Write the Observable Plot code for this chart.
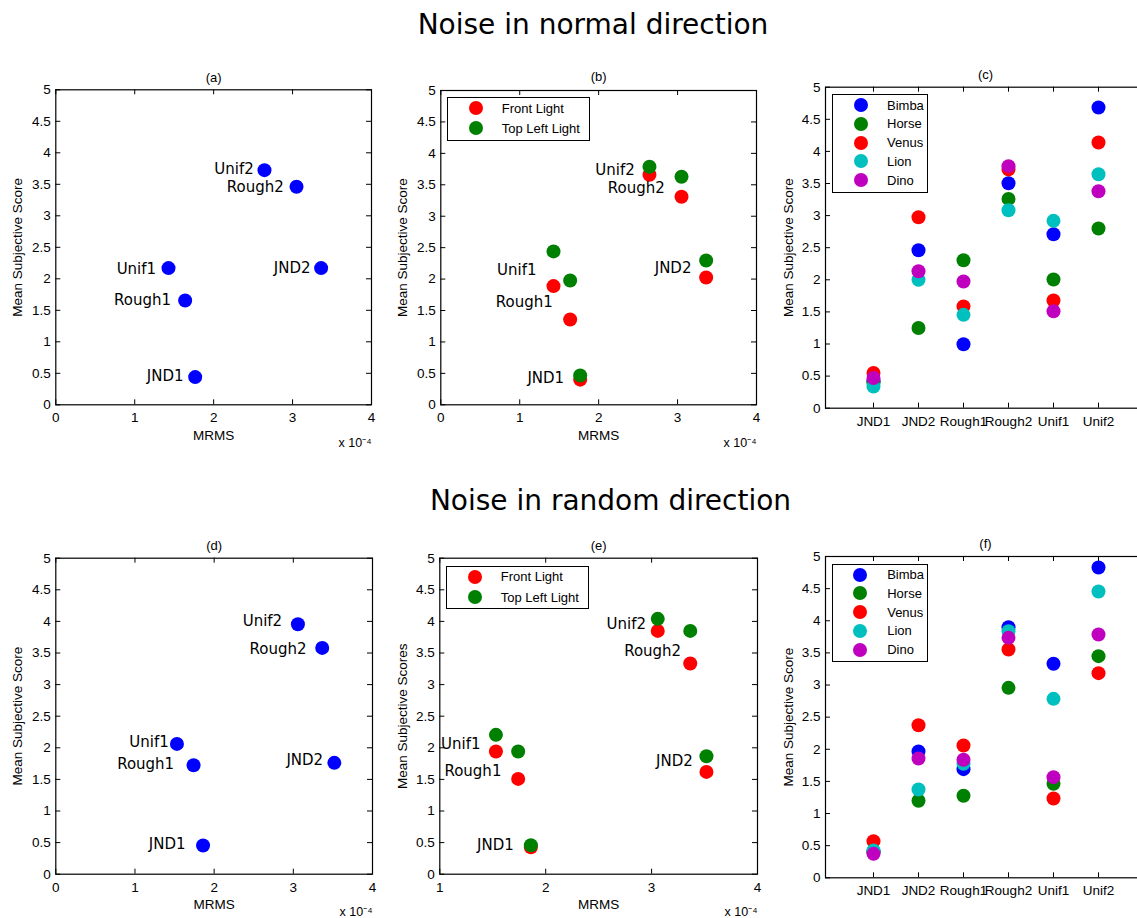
<!DOCTYPE html>
<html><head><meta charset="utf-8">
<script src="https://cdn.jsdelivr.net/npm/d3@7"></script>
<script src="https://cdn.jsdelivr.net/npm/@observablehq/plot@0.6"></script>
<style>
body{margin:0;background:#fff;overflow:hidden}
#fig{position:relative;width:1137px;height:918px;overflow:hidden;background:#fff;font-family:"Liberation Sans",Arial,sans-serif;color:#000}
.bigtitle{position:absolute;font-family:"DejaVu Sans";font-size:28px;line-height:28px;white-space:nowrap;transform:translateX(-50%);color:#000}
.legend{position:absolute;border:1.5px solid #000;background:#fff;box-sizing:border-box}
.legend .dot{position:absolute;width:14px;height:14px;border-radius:50%}
.legend .lab{position:absolute;font-size:13px;line-height:13px;white-space:nowrap;font-family:"Liberation Sans",Arial,sans-serif}
</style></head>
<body><div id="fig"></div>
<script>
// ---------------- data ----------------
const noiseTypes = ["JND1", "JND2", "Rough1", "Rough2", "Unif1", "Unif2"];
const models = ["Bimba", "Horse", "Venus", "Lion", "Dino"];
const lights = ["Front Light", "Top Left Light"];
const yTicks = [0, 0.5, 1, 1.5, 2, 2.5, 3, 3.5, 4, 4.5, 5];
const xTicksNormal = [0, 1, 2, 3, 4];
const xTicksRandom = [1, 2, 3, 4];

// Noise in normal direction (MRMS in units of 1e-4)
const mrmsNormal = [1.766, 3.362, 1.639, 3.05, 1.428, 2.644];
const scoreNormal = [0.44, 2.17, 1.656, 3.46, 2.17, 3.725];
const scoreNormalFront = [0.40, 2.025, 1.357, 3.31, 1.888, 3.66];
const scoreNormalTopLeft = [0.467, 2.296, 1.978, 3.627, 2.44, 3.786];
const scoreNormalBimba = [0.42, 2.46, 0.997, 3.505, 2.71, 4.683];
const scoreNormalHorse = [0.40, 1.25, 2.305, 3.26, 2.004, 2.799];
const scoreNormalVenus = [0.55, 2.975, 1.584, 3.72, 1.677, 4.138];
const scoreNormalLion = [0.337, 2.0, 1.454, 3.084, 2.918, 3.645];
const scoreNormalDino = [0.47, 2.134, 1.973, 3.77, 1.511, 3.38];

// Noise in random direction
const mrmsRandom = [1.86, 3.518, 1.74, 3.365, 1.53, 3.058];
const scoreRandom = [0.454, 1.762, 1.725, 3.581, 2.062, 3.956];
const scoreRandomFront = [0.427, 1.619, 1.508, 3.333, 1.941, 3.85];
const scoreRandomTopLeft = [0.459, 1.867, 1.941, 3.85, 2.205, 4.04];
const scoreRandomBimba = [0.40, 1.966, 1.691, 3.90, 3.33, 4.829];
const scoreRandomHorse = [0.40, 1.198, 1.276, 2.956, 1.463, 3.449];
const scoreRandomVenus = [0.57, 2.375, 2.059, 3.553, 1.234, 3.185];
const scoreRandomLion = [0.425, 1.374, 1.774, 3.838, 2.785, 4.455];
const scoreRandomDino = [0.373, 1.857, 1.836, 3.734, 1.566, 3.786];

// annotation anchors (data units: right end of each name label)
const labelXa = [1.618, 3.227, 1.461, 2.889, 1.271, 2.509];
const labelYa = [0.455, 2.175, 1.656, 3.455, 2.159, 3.735];
const labelXb = [1.563, 3.176, 1.419, 2.838, 1.212, 2.458];
const labelYb = [0.424, 2.179, 1.638, 3.451, 2.136, 3.727];
const labelXd = [1.638, 3.377, 1.495, 3.166, 1.427, 2.859];
const labelYd = [0.469, 1.798, 1.735, 3.555, 2.089, 3.998];
const labelXe = [1.699, 3.389, 1.582, 3.279, 1.384, 2.948];
const labelYe = [0.454, 1.783, 1.63, 3.528, 2.062, 3.961];

// ---------------- styles ----------------
const modelColors = ["#0000ff", "#008000", "#ff0000", "#00bfbf", "#bf00bf"];
const lightColors = ["#ff0000", "#008000"];
const DOT_R = 7;
const TICK = 5;

const fig = document.getElementById("fig");
function place(el, left, top) {
  el.style.position = "absolute";
  el.style.left = left + "px";
  el.style.top = top + "px";
  fig.appendChild(el);
}

function axesMarks(geom, {xTickValues, xFormat, title, titleDy, ylabel, ylabelDx, xlabel, xlabelDy, expDy}) {
  const [w, h, ml, mr, mt, mb] = geom;
  const fw = w - ml - mr, fh = h - mt - mb;
  const m = [
    // inward ticks on all four sides (MATLAB box style)
    Plot.ruleY(yTicks, {insetRight: fw - TICK, stroke: "#000", strokeWidth: 1}),
    Plot.ruleY(yTicks, {insetLeft: fw - TICK, stroke: "#000", strokeWidth: 1}),
    Plot.ruleX(xTickValues, {insetTop: fh - TICK, stroke: "#000", strokeWidth: 1}),
    Plot.ruleX(xTickValues, {insetBottom: fh - TICK, stroke: "#000", strokeWidth: 1}),
    Plot.frame({stroke: "#000", strokeWidth: 1.2}),
    Plot.axisY({anchor: "left", ticks: yTicks, tickFormat: d => String(d), tickSize: 0, tickPadding: 5, label: null, fontSize: 13.5}),
    Plot.axisX({anchor: "bottom", ticks: xTickValues, tickFormat: xFormat, tickSize: 0, tickPadding: 8, label: null, fontSize: 13.5}),
    Plot.text([title], {frameAnchor: "top", dy: titleDy, lineAnchor: "middle", fontSize: 13}),
    Plot.text([ylabel], {frameAnchor: "left", dx: ylabelDx, rotate: -90, textAnchor: "middle", lineAnchor: "middle", fontSize: 13.5})
  ];
  if (xlabel) m.push(Plot.text([xlabel], {frameAnchor: "bottom", dy: xlabelDy, lineAnchor: "middle", fontSize: 13.5}));
  if (expDy) m.push(Plot.text(["x 10\u207B\u2074"], {frameAnchor: "bottom-right", textAnchor: "end", dy: expDy, lineAnchor: "middle", fontSize: 12.5}));
  return m;
}

function baseOptions(width, height, ml, mr, mt, mb) {
  return {
    width, height, marginLeft: ml, marginRight: mr, marginTop: mt, marginBottom: mb,
    style: {fontFamily: "Liberation Sans, Arial, sans-serif", fontSize: "13px", color: "#000", background: "transparent", overflow: "visible"}
  };
}

function nameLabels(rows) {
  return Plot.text(rows, {x: "lx", y: "ly", text: "name", textAnchor: "end", lineAnchor: "middle", fontFamily: "DejaVu Sans", fontSize: 15, fill: "#000"});
}

// single-colour scatter (a, d)
function scatterSingle({mrms, score, lx, ly, xDomain, xTickValues, geom, text}) {
  const rows = noiseTypes.map((name, i) => ({name, mrms: mrms[i], score: score[i], lx: lx[i], ly: ly[i]}));
  return Plot.plot({
    ...baseOptions(...geom),
    x: {domain: xDomain, label: null},
    y: {domain: [0, 5], label: null},
    marks: [
      ...axesMarks(geom, {xTickValues, xFormat: d => String(d), ...text}),
      Plot.dot(rows, {x: "mrms", y: "score", r: DOT_R, fill: modelColors[0], stroke: "none"}),
      nameLabels(rows)
    ]
  });
}

// two-light scatter (b, e)
function scatterLights({mrms, front, topLeft, lx, ly, xDomain, xTickValues, geom, text}) {
  const series = [front, topLeft];
  const rows = [];
  series.forEach((s, k) => noiseTypes.forEach((name, i) => rows.push({name, light: lights[k], mrms: mrms[i], score: s[i]})));
  const labelRows = noiseTypes.map((name, i) => ({name, lx: lx[i], ly: ly[i]}));
  return Plot.plot({
    ...baseOptions(...geom),
    x: {domain: xDomain, label: null},
    y: {domain: [0, 5], label: null},
    color: {domain: lights, range: lightColors},
    marks: [
      ...axesMarks(geom, {xTickValues, xFormat: d => String(d), ...text}),
      Plot.dot(rows, {x: "mrms", y: "score", r: DOT_R, fill: "light", stroke: "none"}),
      nameLabels(labelRows)
    ]
  });
}

// per-model categorical (c, f)
function modelPlot({series, geom, text}) {
  const rows = [];
  series.forEach((s, k) => noiseTypes.forEach((name, i) => rows.push({noise: name, model: models[k], score: s[i]})));
  return Plot.plot({
    ...baseOptions(...geom),
    x: {type: "point", domain: noiseTypes, padding: 1, label: null},
    y: {domain: [0, 5], label: null},
    color: {domain: models, range: modelColors},
    marks: [
      ...axesMarks(geom, {xTickValues: noiseTypes, xFormat: d => d, ...text}),
      Plot.dot(rows, {x: "noise", y: "score", r: DOT_R, fill: "model", stroke: "none"})
    ]
  });
}

function legend(left, top, width, height, labels, colors, firstY, stepY, dotX, textX) {
  const box = document.createElement("div");
  box.className = "legend";
  box.style.width = width + "px";
  box.style.height = height + "px";
  labels.forEach((lab, i) => {
    const cy = firstY + i * stepY - 1.5;
    const d = document.createElement("span");
    d.className = "dot";
    d.style.background = colors[i];
    d.style.left = (dotX - 1.5 - 7) + "px";
    d.style.top = (cy - 7) + "px";
    box.appendChild(d);
    const t = document.createElement("span");
    t.className = "lab";
    t.textContent = lab;
    t.style.left = (textX - 1.5) + "px";
    t.style.top = (cy - 6.5) + "px";
    box.appendChild(t);
  });
  place(box, left, top);
}

function bigTitle(text, cx, top) {
  const d = document.createElement("div");
  d.className = "bigtitle";
  d.textContent = text;
  d.style.left = cx + "px";
  d.style.top = top + "px";
  fig.appendChild(d);
}

// ---------------- titles ----------------
bigTitle("Noise in normal direction", 593, 11);
bigTitle("Noise in random direction", 610.5, 487);

// ---------------- row 1 ----------------
place(scatterSingle({
  mrms: mrmsNormal, score: scoreNormal, lx: labelXa, ly: labelYa,
  xDomain: [0, 4], xTickValues: xTicksNormal,
  geom: [385, 395, 55.3, 14, 29.3, 50.7],
  text: {title: "(a)", titleDy: -12.3, ylabel: "Mean Subjective Score", ylabelDx: -38, xlabel: "MRMS", xlabelDy: 30.7, expDy: 38.4}
}), 0, 60);

place(scatterLights({
  mrms: mrmsNormal, front: scoreNormalFront, topLeft: scoreNormalTopLeft, lx: labelXb, ly: labelYb,
  xDomain: [0, 4], xTickValues: xTicksNormal,
  geom: [385, 395, 60.3, 9, 30, 50.7],
  text: {title: "(b)", titleDy: -13.3, ylabel: "Mean Subjective Score", ylabelDx: -38, xlabel: "MRMS", xlabelDy: 30.7, expDy: 38.4}
}), 380, 60);

place(modelPlot({
  series: [scoreNormalBimba, scoreNormalHorse, scoreNormalVenus, scoreNormalLion, scoreNormalDino],
  geom: [375, 395, 55, 0, 26.7, 47.3],
  text: {title: "(c)", titleDy: -12.7, ylabel: "Mean Subjective Score", ylabelDx: -36.7}
}), 770, 60);

// ---------------- row 2 ----------------
place(scatterSingle({
  mrms: mrmsRandom, score: scoreRandom, lx: labelXd, ly: labelYd,
  xDomain: [0, 4], xTickValues: xTicksNormal,
  geom: [385, 388, 55.3, 13, 27.7, 44.3],
  text: {title: "(d)", titleDy: -12.7, ylabel: "Mean Subjective Score", ylabelDx: -38, xlabel: "MRMS", xlabelDy: 30.3, expDy: 38}
}), 0, 530);

place(scatterLights({
  mrms: mrmsRandom, front: scoreRandomFront, topLeft: scoreRandomTopLeft, lx: labelXe, ly: labelYe,
  xDomain: [1, 4], xTickValues: xTicksRandom,
  geom: [385, 388, 59.3, 8, 27.7, 44.3],
  text: {title: "(e)", titleDy: -12.7, ylabel: "Mean Subjective Scores", ylabelDx: -37, xlabel: "MRMS", xlabelDy: 30.3, expDy: 38}
}), 380, 530);

place(modelPlot({
  series: [scoreRandomBimba, scoreRandomHorse, scoreRandomVenus, scoreRandomLion, scoreRandomDino],
  geom: [375, 388, 55, 0, 26, 40.7],
  text: {title: "(f)", titleDy: -12.7, ylabel: "Mean Subjective Score", ylabelDx: -36.7}
}), 770, 530);

// ---------------- legends ----------------
legend(447.3, 97.3, 142.7, 43.4, lights, lightColors, 11.7, 20, 29, 55);
legend(831.5, 94.2, 96.5, 98.5, models, modelColors, 11.5, 18.75, 29.8, 56);
legend(446, 565.7, 143.3, 43.6, lights, lightColors, 11.6, 20.4, 29.3, 55.3);
legend(831.7, 563.7, 96.3, 98.6, models, modelColors, 11.6, 18.7, 29.3, 56);
</script></body></html>
